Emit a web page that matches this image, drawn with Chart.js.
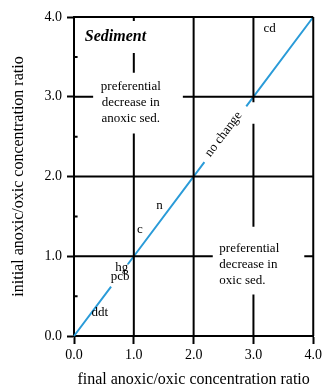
<!DOCTYPE html>
<html>
<head>
<meta charset="utf-8">
<script src="https://cdn.jsdelivr.net/npm/chart.js@4.4.1/dist/chart.umd.min.js"></script>
<style>
  html, body { margin: 0; padding: 0; background: #fff; }
  #wrap { width: 325px; height: 392px; }
</style>
</head>
<body>
<div id="wrap"><canvas id="chart"></canvas></div>
<script>
// axis ticks (ratio units)
const xTicks = [0, 1, 2, 3, 4];
const yTicks = [0, 1, 2, 3, 4];
const minorY = [0.5, 1.5, 2.5, 3.5];

// black frame / broken grid lines: [x1, y1, x2, y2]
const gridSegments = [
    [0, 4, 4, 4], [4, 0, 4, 4],
    [0, 3, 0.32, 3], [1.82, 3, 4, 3],
    [0, 2, 4, 2],
    [0, 1, 2.32, 1], [3.85, 1, 4, 1],
    [1, 0, 1, 2.54], [1, 3.3, 1, 3.55], [1, 4, 1, 3.95],
    [2, 0, 2, 4],
    [3, 4, 3, 2.93], [3, 2.66, 3, 1.37], [3, 0.52, 3, 0]
];

// 1:1 "no change" line, broken where the labels sit
const noChangeSegments = [[0, 0, 0.62, 0.62], [0.9, 0.9, 2.18, 2.18], [2.88, 2.88, 4, 4]];

// compounds placed along the line
const compounds = ["ddt", "pcb", "hg", "c", "n", "cd"];
const compoundX = [0.43, 0.77, 0.8, 1.1, 1.43, 3.27];
const compoundY = [0.29, 0.74, 0.86, 1.33, 1.64, 3.85];

const SERIF = "'Liberation Serif', 'Times New Roman', serif";

function segPoints(segs) {
    const pts = [];
    segs.forEach(s => {
        pts.push({ x: s[0], y: s[1] }, { x: s[2], y: s[3] }, { x: s[2], y: null });
    });
    return pts;
}

const minorSegs = minorY.map(v => [0, v, 0.06, v]);

// text notes drawn in data coordinates
const notes = [
    { lines: ["Sediment"], x: 0.18, y: 3.75, align: "left", font: "italic bold 16px " + SERIF },
    { lines: ["preferential", "decrease in", "anoxic sed."], x: 0.95, y: 2.93, align: "center", font: "13px " + SERIF },
    { lines: ["preferential", "decrease in", "oxic sed."], x: 2.43, y: 0.9, align: "left", font: "13px " + SERIF },
    { lines: ["no change"], x: 2.5, y: 2.53, align: "center", font: "13px " + SERIF, rot: -53 }
];

const notesPlugin = {
    id: "notes",
    afterDatasetsDraw(chart) {
        const { ctx, scales: { x, y } } = chart;
        ctx.save();
        ctx.fillStyle = "#000";
        ctx.textBaseline = "middle";
        compounds.forEach((t, i) => {
            ctx.font = "13px " + SERIF;
            ctx.textAlign = "center";
            ctx.fillText(t, x.getPixelForValue(compoundX[i]), y.getPixelForValue(compoundY[i]));
        });
        notes.forEach(n => {
            ctx.font = n.font;
            ctx.textAlign = n.align;
            const px = x.getPixelForValue(n.x);
            const py = y.getPixelForValue(n.y);
            const lh = 16;
            ctx.save();
            ctx.translate(px, py);
            if (n.rot) ctx.rotate(n.rot * Math.PI / 180);
            const top = -(n.lines.length - 1) * lh / 2;
            n.lines.forEach((l, k) => ctx.fillText(l, 0, top + k * lh));
            ctx.restore();
        });
        ctx.restore();
    }
};

const axisCommon = {
    type: "linear",
    min: 0,
    max: 4,
    border: { display: true, color: "#000", width: 2 },
    grid: { display: true, drawOnChartArea: false, drawTicks: true, tickLength: 7, tickColor: "#000", tickWidth: 2 },
    ticks: {
        color: "#000",
        font: { family: SERIF, size: 14 },
        callback: v => v.toFixed(1)
    }
};

new Chart(document.getElementById("chart"), {
    type: "scatter",
    data: {
        datasets: [
            {
                data: segPoints(gridSegments.concat(minorSegs)),
                showLine: true,
                spanGaps: false,
                borderColor: "#000",
                borderWidth: 2,
                pointRadius: 0,
                clip: false
            },
            {
                data: segPoints(noChangeSegments),
                showLine: true,
                spanGaps: false,
                borderColor: "#2a9bd8",
                borderWidth: 2,
                pointRadius: 0,
                clip: false
            }
        ]
    },
    options: {
        responsive: true,
        maintainAspectRatio: false,
        animation: false,
        layout: { padding: { top: 17, right: 11, left: 0, bottom: 0 } },
        plugins: { legend: { display: false }, tooltip: { enabled: false } },
        scales: {
            x: {
                ...axisCommon,
                grid: { ...axisCommon.grid, tickLength: 8 },
                ticks: { ...axisCommon.ticks, padding: 3, maxRotation: 0 },
                afterBuildTicks: s => { s.ticks = xTicks.map(v => ({ value: v })); },
                afterFit: s => { s.height = 56; },
                title: {
                    display: true,
                    text: "final anoxic/oxic concentration ratio",
                    color: "#000",
                    font: { family: SERIF, size: 16 },
                    padding: { top: 0, bottom: 3 }
                }
            },
            y: {
                ...axisCommon,
                ticks: { ...axisCommon.ticks, padding: 5 },
                afterBuildTicks: s => { s.ticks = yTicks.map(v => ({ value: v })); },
                afterFit: s => { s.width = 74; },
                title: {
                    display: true,
                    text: "initial anoxic/oxic concentration ratio",
                    color: "#000",
                    font: { family: SERIF, size: 16 },
                    padding: { top: 9, bottom: 0 }
                }
            }
        }
    },
    plugins: [notesPlugin]
});
</script>
</body>
</html>
